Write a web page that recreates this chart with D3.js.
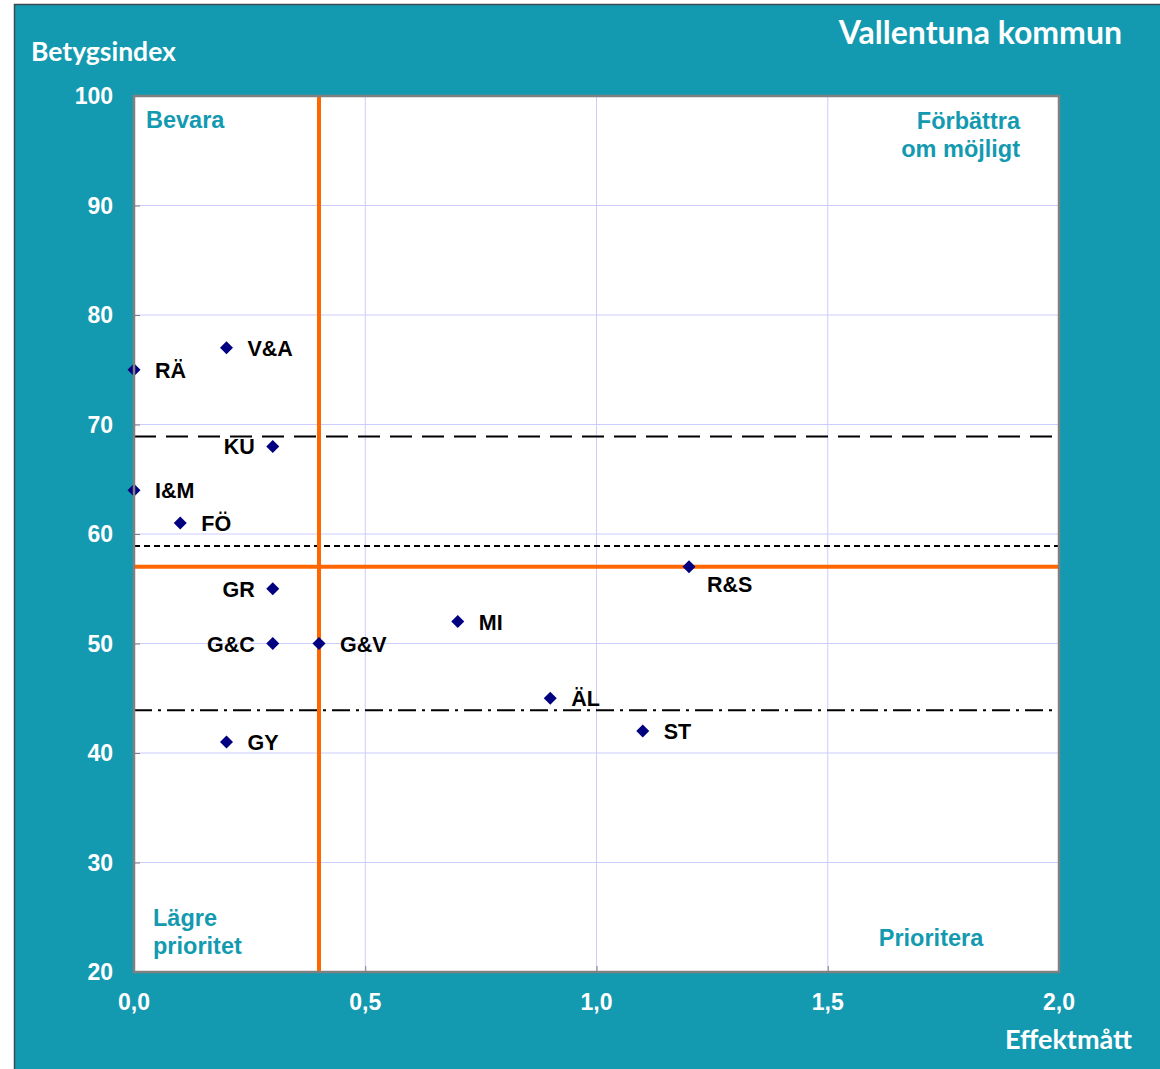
<!DOCTYPE html>
<html><head><meta charset="utf-8">
<script src="https://cdn.jsdelivr.net/npm/d3@7"></script>
<style>body{margin:0;background:#fff}svg{display:block}</style>
</head><body>
<script>
const labels = ["RÄ","V&A","KU","I&M","FÖ","GR","G&C","G&V","MI","R&S","ÄL","ST","GY"];
const effekt = [0,0.2,0.3,0,0.1,0.3,0.3,0.4,0.7,1.2,0.9,1.1,0.2];
const betyg = [75,77,68,64,61,55,50,50,52,57,45,42,41];
const labelPos = ["r","r","l","r","r","l","l","r","r","br","r","r","r"];
const xTicks = [0,0.5,1.0,1.5,2.0];
const yTicks = [20,30,40,50,60,70,80,90,100];
const orangeX = 0.4, orangeY = 57;
const refLines = [{v:68.9,dash:"22,10"},{v:58.9,dash:"6,4"},{v:43.9,dash:"18,6,3,6"}];
const title = "Vallentuna kommun", yTitle = "Betygsindex", xTitle = "Effektmått";

const W=1160,H=1069;
const svg=d3.select("body").append("svg").attr("width",W).attr("height",H);
svg.append("rect").attr("x",14).attr("y",4).attr("width",W-14).attr("height",H-4).attr("fill","#139AB0");
svg.append("path").attr("d",`M14.5,${H} V4.5 H${W}`).attr("stroke","#3a4a50").attr("stroke-width",1.5).attr("fill","none");

const x=d3.scaleLinear().domain([0,2]).range([134,1059]);
const y=d3.scaleLinear().domain([20,100]).range([972,96]);
svg.append("rect").attr("x",134).attr("y",96).attr("width",925).attr("height",876).attr("fill","#fff");
const g=svg.append("g");
g.selectAll(".gy").data(yTicks.slice(1,-1)).join("line").attr("x1",134).attr("x2",1059).attr("y1",d=>y(d)).attr("y2",d=>y(d)).attr("stroke","#ccccff").attr("stroke-width",1);
g.selectAll(".gx").data(xTicks.slice(1,-1)).join("line").attr("y1",96).attr("y2",972).attr("x1",d=>x(d)).attr("x2",d=>x(d)).attr("stroke","#ccccff").attr("stroke-width",1);
const ya=d3.axisRight(y).tickValues(yTicks).tickSize(6).tickFormat("");
g.append("g").attr("transform","translate(134,0)").call(ya).call(s=>{s.select(".domain").remove();s.selectAll("line").attr("stroke","#808080");});
const xa=d3.axisTop(x).tickValues(xTicks).tickSize(6).tickFormat("");
g.append("g").attr("transform","translate(0,972)").call(xa).call(s=>{s.select(".domain").remove();s.selectAll("line").attr("stroke","#808080");});
refLines.forEach(r=>{
  g.append("line").attr("x1",134).attr("x2",1059).attr("y1",y(r.v)).attr("y2",y(r.v)).attr("stroke","#000").attr("stroke-width",2).attr("stroke-dasharray",r.dash);
});
g.append("line").attr("x1",x(orangeX)).attr("x2",x(orangeX)).attr("y1",96).attr("y2",972).attr("stroke","#FF6600").attr("stroke-width",4);
g.append("line").attr("x1",134).attr("x2",1059).attr("y1",y(orangeY)).attr("y2",y(orangeY)).attr("stroke","#FF6600").attr("stroke-width",4);
svg.append("rect").attr("x",134).attr("y",96).attr("width",925).attr("height",876).attr("fill","none").attr("stroke","#808080").attr("stroke-width",2.5);

const sym=d3.symbol().type(d3.symbolSquare).size(85);
const data=labels.map((l,i)=>({l,x:effekt[i],y:betyg[i],p:labelPos[i]}));
g.selectAll(".pt").data(data).join("path").attr("d",sym).attr("transform",d=>`translate(${x(d.x)},${y(d.y)}) rotate(45)`).attr("fill","#000080");
g.selectAll(".lb").data(data).join("text")
 .attr("x",d=>d.p==="l"?x(d.x)-18:(d.p==="br"?x(d.x)+18:x(d.x)+21))
 .attr("y",d=>d.p==="br"?y(d.y)+25:y(d.y)+8)
 .attr("text-anchor",d=>d.p==="l"?"end":"start")
 .attr("font-family","Liberation Sans, Arial, sans-serif").attr("font-weight","bold").attr("font-size",21.5).attr("fill","#000")
 .text(d=>d.l);

const tf="Liberation Sans, Arial, sans-serif";
svg.selectAll(".yt").data(yTicks).join("text").attr("x",113).attr("y",d=>y(d)+8).attr("text-anchor","end")
 .attr("font-family",tf).attr("font-weight","bold").attr("font-size",23).attr("fill","#fff").text(d=>d);
svg.selectAll(".xt").data(xTicks).join("text").attr("x",d=>x(d)).attr("y",1010).attr("text-anchor","middle")
 .attr("font-family",tf).attr("font-weight","bold").attr("font-size",23).attr("fill","#fff").text(d=>d3.format(".1f")(d).replace(".",","));

const cf="Lato, 'Open Sans', sans-serif";
svg.append("text").attr("x",1122).attr("y",44).attr("text-anchor","end").attr("font-family",cf).attr("font-weight","bold").attr("font-size",32).attr("fill","#fff").text(title);
svg.append("text").attr("x",31).attr("y",61).attr("font-family",cf).attr("font-weight","bold").attr("font-size",26.5).attr("fill","#fff").text(yTitle);
svg.append("text").attr("x",1132).attr("y",1049).attr("text-anchor","end").attr("font-family",cf).attr("font-weight","bold").attr("font-size",27).attr("fill","#fff").text(xTitle);

const qc="#139AB0";
function q(t,xx,yy,anchor){svg.append("text").attr("x",xx).attr("y",yy).attr("text-anchor",anchor).attr("font-family",tf).attr("font-weight","bold").attr("font-size",23.5).attr("fill",qc).text(t);}
q("Bevara",146,128,"start");
q("Förbättra",1020,129,"end");
q("om möjligt",1020,157,"end");
q("Lägre",153,926,"start");
q("prioritet",153,954,"start");
q("Prioritera",931,946,"middle");
</script>
</body></html>
